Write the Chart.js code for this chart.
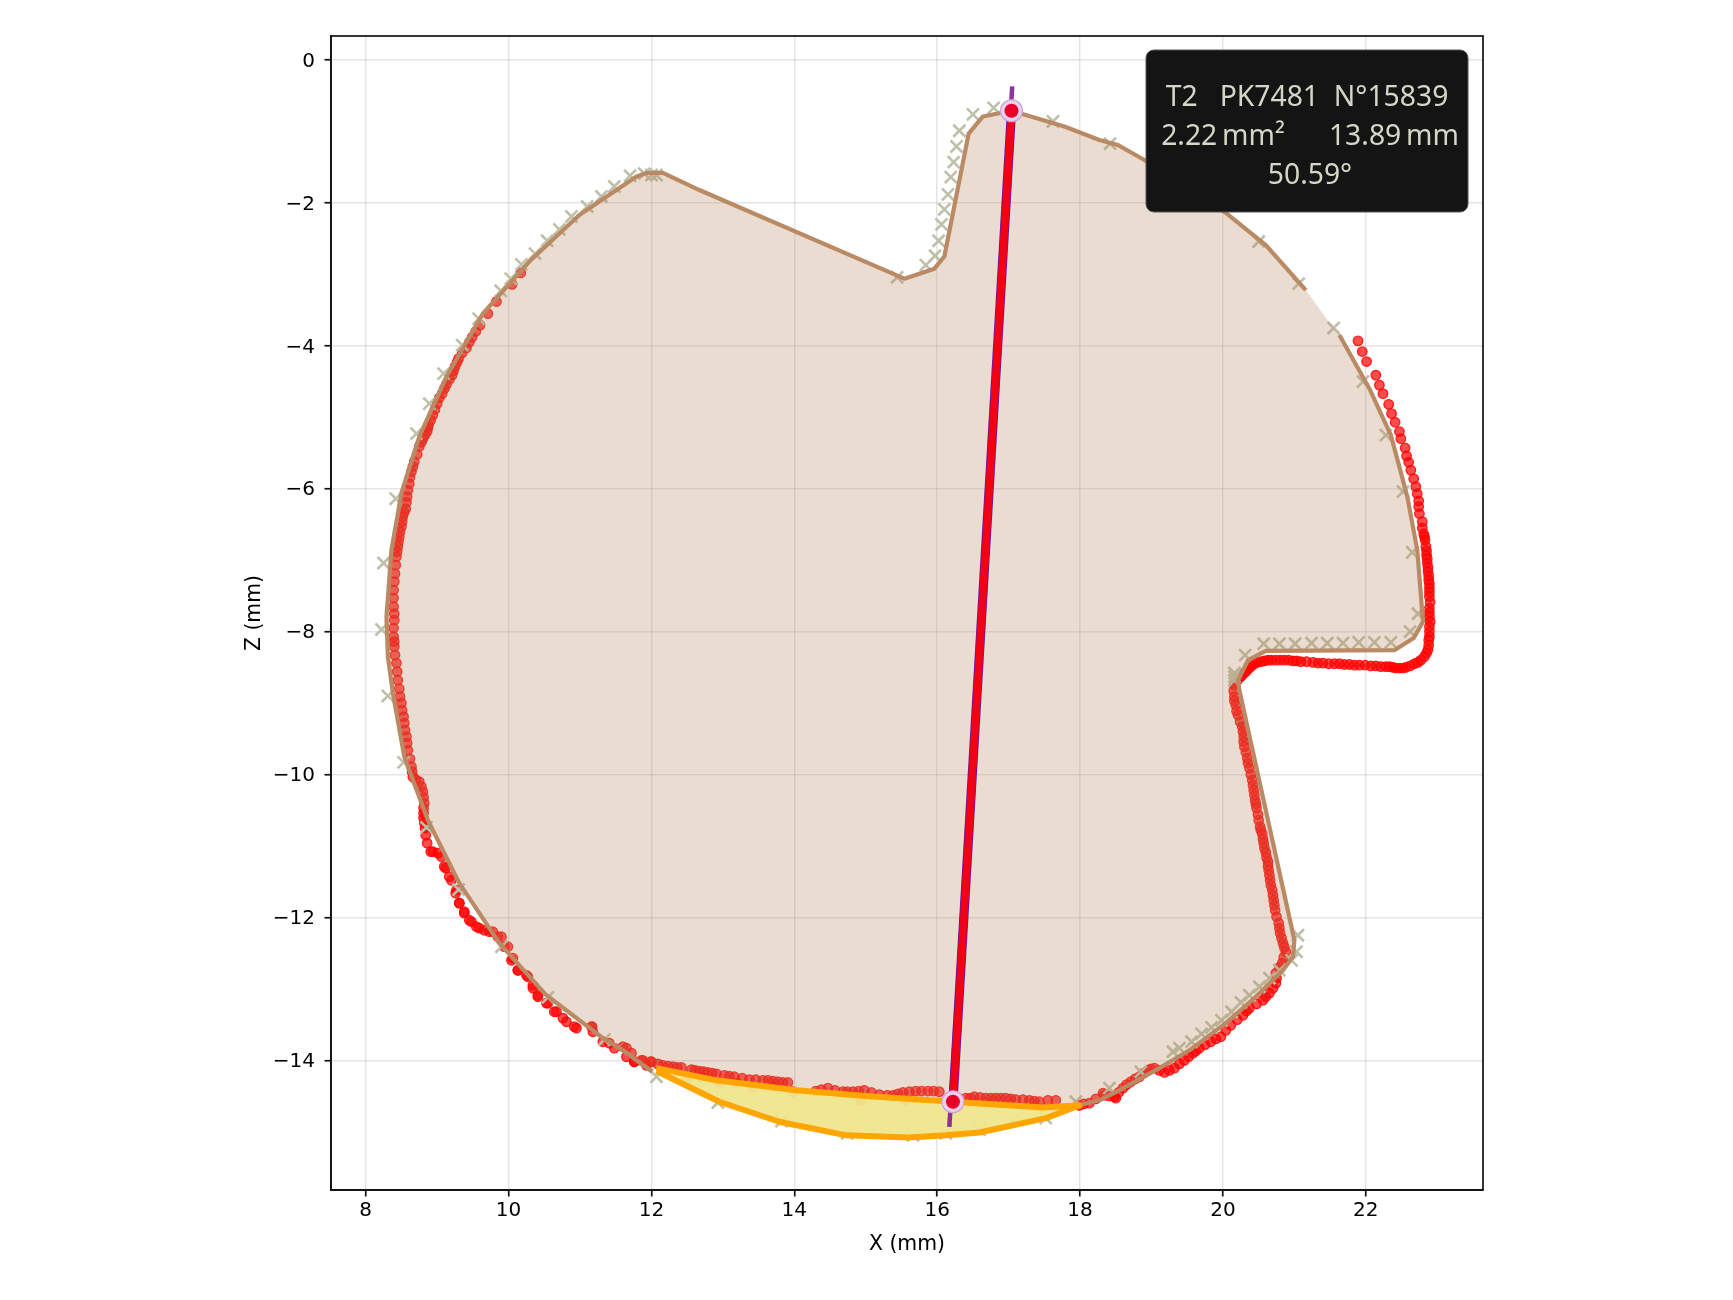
<!DOCTYPE html>
<html>
<head>
<meta charset="utf-8">
<title>T2 section</title>
<style>
  html, body { margin: 0; padding: 0; background: #fff; }
  canvas { display: block; }
</style>
<script src="https://cdn.jsdelivr.net/npm/chart.js@4/dist/chart.umd.min.js"></script>
</head>
<body>
<canvas id="chart" width="1733" height="1300"></canvas>
<script>
// fitted contour (closed, runs clockwise from the lower left end of the wear zone)
const contourX = [12.01,11.60,11.32,10.53,9.87,9.31,8.87,8.54,8.38,8.31,8.29,8.36,8.50,8.75,9.13,9.64,10.29,10.99,11.79,11.93,12.16,12.67,15.54,15.96,16.10,16.44,16.64,17.04,17.78,18.27,18.53,18.90,20.04,20.60,21.16,21.53,21.63,22.05,22.35,22.58,22.72,22.80,22.67,22.40,20.60,20.35,20.21,20.23,21.00,20.98,20.84,20.46,20.04,19.53,19.11,18.55,18.27,17.99,17.48,16.22,15.00,14.03,12.91,12.07];
const contourZ = [-14.16,-13.86,-13.69,-13.09,-12.36,-11.52,-10.64,-9.75,-8.86,-8.35,-7.79,-6.86,-6.06,-5.27,-4.43,-3.55,-2.82,-2.17,-1.63,-1.58,-1.58,-1.82,-3.06,-2.92,-2.75,-1.03,-0.79,-0.71,-0.93,-1.12,-1.19,-1.40,-2.14,-2.59,-3.22,-3.73,-3.85,-4.60,-5.25,-6.11,-6.86,-7.86,-8.09,-8.26,-8.27,-8.40,-8.68,-8.82,-12.32,-12.55,-12.74,-13.11,-13.48,-13.86,-14.11,-14.42,-14.56,-14.63,-14.66,-14.58,-14.50,-14.42,-14.28,-14.11];
const contourGapStart = 34;
const contourGapEnd = 36;

// wear zone
const wearX = [12.07,12.91,14.03,15.00,16.22,17.48,17.99,17.52,16.59,16.12,15.61,14.73,13.79,12.95,12.07];
const wearZ = [-14.11,-14.28,-14.42,-14.50,-14.58,-14.66,-14.63,-14.81,-15.01,-15.05,-15.08,-15.05,-14.86,-14.58,-14.15];

// reference profile crosses
const refX = [8.42,8.71,8.89,9.09,9.35,9.58,9.89,10.03,10.18,10.37,10.54,10.71,10.88,11.10,11.30,11.48,11.70,11.90,12.00,12.07,15.44,15.84,15.97,16.02,16.06,16.10,16.15,16.19,16.23,16.27,16.31,16.50,16.79,17.62,18.42,20.50,21.06,21.55,21.96,22.28,22.52,22.65,22.73,22.62,22.35,22.12,21.90,21.68,21.46,21.24,21.01,20.79,20.57,20.31,20.16,20.16,20.16,21.05,21.03,20.96,20.79,20.65,20.51,20.37,20.25,20.12,19.98,19.84,19.70,19.56,19.39,19.30,18.85,18.41,17.94,17.52,17.06,16.59,16.12,15.66,14.74,13.82,12.93,12.07,11.34,10.55,9.90,9.30,8.85,8.53,8.31,8.22,8.25];
const refZ = [-6.14,-5.23,-4.81,-4.39,-3.99,-3.62,-3.23,-3.06,-2.86,-2.71,-2.53,-2.37,-2.19,-2.05,-1.91,-1.77,-1.62,-1.59,-1.61,-1.61,-3.04,-2.87,-2.74,-2.53,-2.30,-2.09,-1.88,-1.64,-1.43,-1.21,-0.99,-0.76,-0.67,-0.86,-1.17,-2.54,-3.13,-3.75,-4.50,-5.25,-6.04,-6.89,-7.75,-8.00,-8.15,-8.15,-8.15,-8.16,-8.16,-8.16,-8.17,-8.17,-8.17,-8.33,-8.58,-8.63,-8.68,-12.25,-12.48,-12.60,-12.74,-12.85,-12.97,-13.09,-13.19,-13.32,-13.44,-13.54,-13.63,-13.74,-13.83,-13.88,-14.16,-14.39,-14.58,-14.81,-14.84,-14.97,-15.02,-15.05,-15.02,-14.85,-14.59,-14.23,-13.71,-13.12,-12.41,-11.61,-10.74,-9.83,-8.90,-7.97,-7.04];

// measured points, right flank then clockwise round to the top left
const measuredX = [21.89,21.95,22.01,22.14,22.19,22.24,22.32,22.36,22.41,22.47,22.49,22.55,22.57,22.60,22.63,22.67,22.70,22.72,22.74,22.74,22.75,22.79,22.81,22.83,22.84,22.85,22.86,22.87,22.88,22.89,22.89,22.89,22.89,22.89,22.89,22.88,22.85,22.77,22.68,22.56,22.47,22.38,22.28,22.14,21.99,21.84,21.70,21.56,21.40,21.26,21.09,20.98,20.86,20.74,20.63,20.53,20.44,20.37,20.30,20.23,20.16,20.16,20.18,20.21,20.27,20.29,20.30,20.34,20.37,20.41,20.43,20.45,20.47,20.50,20.52,20.55,20.57,20.60,20.63,20.64,20.66,20.69,20.71,20.73,20.78,20.80,20.84,20.88,20.83,20.74,20.74,20.65,20.56,20.37,20.28,20.11,19.97,19.83,19.67,19.58,19.46,19.32,19.18,19.04,18.95,18.83,18.71,18.60,18.50,18.48,18.34,18.32,18.13,17.99,17.66,17.43,17.29,17.10,16.96,16.82,16.68,16.52,16.40,16.03,15.87,15.70,15.52,15.38,15.56,15.19,14.98,14.93,14.82,14.68,14.47,14.30,13.98,13.91,13.84,13.70,13.56,13.42,13.37,13.16,13.02,12.95,12.91,12.79,12.67,12.56,12.49,12.42,12.30,12.16,12.00,11.93,11.86,11.76,11.72,11.65,11.60,11.41,11.16,10.95,10.81,10.67,10.53,10.41,10.34,10.25,10.13,10.06,9.99,9.90,9.78,9.66,9.55,9.45,9.38,9.31,9.26,9.20,9.12,9.01,8.91,8.86,8.84,8.82,8.81,8.82,8.80,8.75,8.66,8.64,8.59,8.57,8.54,8.51,8.48,8.45,8.43,8.40,8.39,8.40,8.39,8.39,8.41,8.43,8.45,8.47,8.50,8.52,8.56,8.58,8.61,8.64,8.68,8.75,8.80,8.86,8.88,8.94,9.00,9.07,9.13,9.21,9.25,9.30,9.41,9.49,9.60,9.71,9.83,10.05,10.17];
const measuredZ = [-3.93,-4.08,-4.22,-4.41,-4.55,-4.67,-4.82,-4.95,-5.07,-5.20,-5.30,-5.43,-5.54,-5.63,-5.74,-5.86,-5.97,-6.07,-6.17,-6.25,-6.35,-6.46,-6.63,-6.72,-6.81,-6.93,-7.04,-7.16,-7.28,-7.39,-7.51,-7.67,-7.79,-7.93,-8.07,-8.19,-8.30,-8.40,-8.45,-8.50,-8.51,-8.50,-8.49,-8.48,-8.47,-8.47,-8.46,-8.45,-8.44,-8.43,-8.42,-8.41,-8.40,-8.40,-8.40,-8.42,-8.45,-8.51,-8.58,-8.65,-8.75,-8.91,-9.03,-9.17,-9.33,-9.47,-9.61,-9.77,-9.91,-10.08,-10.22,-10.36,-10.47,-10.64,-10.73,-10.83,-10.96,-11.09,-11.22,-11.34,-11.48,-11.62,-11.76,-11.90,-12.08,-12.22,-12.36,-12.48,-12.64,-12.78,-12.92,-13.06,-13.16,-13.27,-13.37,-13.51,-13.67,-13.74,-13.83,-13.90,-14.00,-14.11,-14.17,-14.11,-14.14,-14.23,-14.30,-14.39,-14.53,-14.51,-14.49,-14.46,-14.60,-14.63,-14.56,-14.58,-14.56,-14.55,-14.53,-14.53,-14.53,-14.51,-14.53,-14.44,-14.43,-14.43,-14.45,-14.49,-14.56,-14.48,-14.42,-14.56,-14.44,-14.44,-14.39,-14.43,-14.44,-14.31,-14.31,-14.29,-14.28,-14.38,-14.27,-14.23,-14.21,-14.32,-14.19,-14.17,-14.15,-14.13,-14.27,-14.10,-14.09,-14.07,-14.02,-14.07,-14.00,-14.02,-13.90,-13.83,-13.81,-13.76,-13.53,-13.55,-13.46,-13.32,-13.20,-13.09,-12.95,-12.81,-12.74,-12.57,-12.41,-12.27,-12.20,-12.18,-12.13,-12.04,-11.92,-11.80,-11.66,-11.48,-11.31,-11.10,-11.08,-10.96,-10.85,-10.68,-10.54,-10.40,-10.24,-10.10,-10.03,-9.89,-9.66,-9.47,-9.28,-9.10,-8.91,-8.68,-8.44,-8.21,-8.07,-7.84,-7.65,-7.42,-7.19,-6.95,-6.81,-6.67,-6.53,-6.39,-6.28,-6.11,-5.93,-5.76,-5.62,-5.41,-5.30,-5.20,-5.11,-4.97,-4.81,-4.67,-4.54,-4.41,-4.29,-4.18,-4.03,-3.88,-3.71,-3.55,-3.38,-3.14,-2.98];

// second reading of the same run where the marks overlap into a solid band
const denseX = [22.79,22.82,22.85,22.86,22.87,22.88,22.89,22.89,22.90,22.89,22.90,22.89,22.88,22.87,22.82,22.73,22.62,22.52,22.42,22.33,22.21,22.07,21.91,21.77,21.63,21.48,21.33,21.17,21.03,20.92,20.80,20.68,20.58,20.48,20.40,20.33,20.26,20.19,20.15,20.16,20.19,20.24,20.28,20.29,20.32,20.35,20.39,20.42,20.44,20.46,20.49,20.53,20.56,20.58,20.61,20.63,20.65,20.67,20.70,20.72,20.75,20.79,20.82,20.86,20.85,20.79,20.75,20.70,20.60,20.47,20.33,20.20,20.04,19.90,19.75,19.62,19.52,19.39,19.25,19.11,18.99,18.89,18.77,18.65,18.54,18.41,18.22,18.05,17.55,17.36,17.20,17.03,16.89,16.75,16.60,16.46,15.95,15.78,15.61,15.45,15.30,15.08,14.90,14.74,14.57,14.38,13.77,13.63,13.46,13.27,13.09,12.85,12.73,12.61,12.36,12.23,12.09,13.70,13.20,12.70,8.94,9.06,9.10,9.17,9.27,9.31,9.38,9.48,9.59,9.73,9.85,9.94,10.04,10.13,10.27,10.34,10.41,10.55,10.64,10.76,10.92,11.17,11.18,11.32,11.48,11.65,11.76,11.88,11.99,8.83,8.81,8.81,8.81,8.78,8.70,8.65,8.62,8.58,8.55,8.53,8.50,8.47,8.44,8.41,8.40,8.39,8.40,8.39,8.40,8.42,8.44,8.46,8.48,8.51,8.54,8.57,8.59,8.62,8.66,8.72,8.78,8.83,8.87,8.91,8.97,9.03,9.10,9.17,9.23,9.28,9.35,9.45,9.54];
const denseZ = [-6.55,-6.67,-6.87,-6.98,-7.10,-7.22,-7.33,-7.45,-7.59,-7.73,-7.86,-8.00,-8.12,-8.25,-8.35,-8.43,-8.48,-8.51,-8.51,-8.49,-8.49,-8.48,-8.47,-8.46,-8.45,-8.45,-8.44,-8.42,-8.41,-8.40,-8.40,-8.40,-8.41,-8.43,-8.48,-8.55,-8.62,-8.70,-8.83,-8.97,-9.11,-9.26,-9.40,-9.54,-9.69,-9.84,-10.00,-10.15,-10.29,-10.41,-10.56,-10.78,-10.90,-11.03,-11.16,-11.28,-11.41,-11.55,-11.69,-11.83,-11.99,-12.15,-12.29,-12.42,-12.56,-12.70,-12.85,-12.99,-13.11,-13.21,-13.31,-13.43,-13.58,-13.70,-13.78,-13.87,-13.95,-14.05,-14.14,-14.14,-14.12,-14.18,-14.26,-14.34,-14.45,-14.50,-14.54,-14.61,-14.56,-14.57,-14.55,-14.54,-14.53,-14.53,-14.52,-14.53,-14.43,-14.43,-14.44,-14.47,-14.49,-14.45,-14.43,-14.44,-14.42,-14.41,-14.30,-14.28,-14.27,-14.25,-14.22,-14.18,-14.16,-14.14,-14.10,-14.08,-14.05,-14.37,-14.32,-14.23,-11.08,-11.15,-11.29,-11.43,-11.62,-11.80,-11.94,-12.06,-12.15,-12.20,-12.27,-12.41,-12.60,-12.74,-12.83,-12.99,-13.11,-13.20,-13.32,-13.41,-13.53,-13.53,-13.60,-13.74,-13.83,-13.95,-14.02,-14.00,-14.02,-10.75,-10.61,-10.47,-10.32,-10.17,-10.07,-9.96,-9.78,-9.56,-9.38,-9.19,-9.00,-8.80,-8.56,-8.33,-8.14,-7.95,-7.75,-7.53,-7.30,-7.07,-6.88,-6.74,-6.60,-6.46,-6.33,-6.19,-6.02,-5.84,-5.69,-5.52,-5.35,-5.25,-5.15,-5.04,-4.89,-4.73,-4.60,-4.47,-4.35,-4.23,-4.10,-3.95,-3.80];

// caliper line
const axisX = [17.05,16.17];
const axisZ = [-0.37,-14.93];
const chordX = [17.04,16.22];
const chordZ = [-0.71,-14.58];

const infoLines = ['T2   PK7481  N°15839', '2.22\u2009mm²      13.89\u2009mm', '50.59°'];

const FRAME = { left: 331, right: 1483, top: 36, bottom: 1190 };
const TITLE_LEFT = 242;
const TITLE_BOTTOM = 43.5;
const TICK_FONT = { family: '"DejaVu Sans"', size: 20 };
const TITLE_FONT = { family: '"DejaVu Sans"', size: 20.4 };

const pts = (xs, zs) => xs.map((x, i) => ({ x, y: zs[i] }));
const minus = (v) => String(v).replace('-', '\u2212');

const framePlugin = {
  id: 'framePlugin',
  afterDatasetsDraw(chart) {
    const { ctx, chartArea: a } = chart;
    ctx.save();
    ctx.strokeStyle = '#111';
    ctx.lineWidth = 1.7;
    ctx.strokeRect(a.left, a.top, a.right - a.left, a.bottom - a.top);
    ctx.restore();
  },
};

// y tick labels sit a touch lower than the library puts them
const yLabelsPlugin = {
  id: 'yLabelsPlugin',
  afterDraw(chart) {
    const { ctx } = chart;
    const y = chart.scales.y;
    ctx.save();
    ctx.fillStyle = '#000';
    ctx.font = `${TICK_FONT.size}px ${TICK_FONT.family}`;
    ctx.textAlign = 'right';
    ctx.textBaseline = 'middle';
    y.ticks.forEach((t) => {
      ctx.fillText(t.label, FRAME.left - 16, y.getPixelForValue(t.value) + 1.5);
    });
    ctx.restore();
  },
};

const infoBoxPlugin = {
  id: 'infoBoxPlugin',
  afterDraw(chart) {
    const { ctx } = chart;
    ctx.save();
    ctx.beginPath();
    ctx.roundRect(1146, 50, 322, 162, 8);
    ctx.fillStyle = '#141414';
    ctx.fill();
    ctx.strokeStyle = '#55554f';
    ctx.lineWidth = 1;
    ctx.stroke();
    ctx.fillStyle = '#d6d6c8';
    ctx.font = '28.3px "Noto Sans"';
    ctx.textAlign = 'center';
    ctx.textBaseline = 'middle';
    ctx.fillText(infoLines[0], 1307, 98);
    ctx.fillText(infoLines[1], 1310, 137);
    ctx.fillText(infoLines[2], 1310, 176);
    ctx.restore();
  },
};

new Chart(document.getElementById('chart'), {
  type: 'scatter',
  data: {
    datasets: [
      { label: 'end outer', data: pts(chordX, chordZ), order: 1, pointRadius: 11, pointBackgroundColor: '#ecd0e8', pointBorderColor: '#c8a2d8', pointBorderWidth: 1.2, showLine: false },
      { label: 'end inner', data: pts(chordX, chordZ), order: 0, pointRadius: 7, pointBackgroundColor: '#e8002a', pointBorderWidth: 0, showLine: false },
      { label: 'chord', data: pts(chordX, chordZ), order: 2, showLine: true, pointRadius: 0, borderColor: '#f20014', borderWidth: 7.5 },
      { label: 'chord edge', data: pts(chordX, chordZ), order: 3, showLine: true, pointRadius: 0, borderColor: 'rgb(110,20,160)', borderWidth: 9.2 },
      { label: 'axis', data: pts(axisX, axisZ), order: 3.5, showLine: true, pointRadius: 0, borderColor: 'rgba(128,30,150,0.9)', borderWidth: 4.5 },
      { label: 'wear', data: pts(wearX, wearZ), order: 4, showLine: true, fill: 'shape', pointRadius: 0, borderColor: '#ffa500', backgroundColor: 'rgba(240,230,140,0.95)', borderWidth: 6, borderJoinStyle: 'round' },
      {
        label: 'contour',
        data: pts(contourX, contourZ),
        order: 5,
        showLine: true,
        pointRadius: 0,
        borderColor: '#b98a64',
        borderWidth: 4.2,
        borderJoinStyle: 'round',
        segment: {
          borderColor: (c) => (c.p0DataIndex >= contourGapStart && c.p0DataIndex < contourGapEnd ? 'rgba(0,0,0,0)' : undefined),
        },
      },
      { label: 'contour fill', data: pts(contourX, contourZ), order: 6, showLine: true, fill: 'shape', pointRadius: 0, borderWidth: 0, borderColor: 'rgba(0,0,0,0)', backgroundColor: 'rgba(185,138,100,0.3)' },
      { label: 'reference', data: pts(refX, refZ), order: 7, showLine: false, pointStyle: 'crossRot', pointRadius: 8.5, pointBorderColor: 'rgba(190,192,170,1)', pointBorderWidth: 2.6 },
      { label: 'measured', data: pts(measuredX.concat(denseX), measuredZ.concat(denseZ)), order: 8, showLine: false, pointRadius: 4.8, pointBackgroundColor: 'rgba(255,0,0,0.7)', pointBorderColor: 'rgba(255,0,0,0.85)', pointBorderWidth: 1.2 },
    ],
  },
  options: {
    responsive: false,
    animation: false,
    devicePixelRatio: 1,
    layout: { padding: { left: TITLE_LEFT, right: 1733 - FRAME.right, top: FRAME.top, bottom: TITLE_BOTTOM } },
    plugins: { legend: { display: false }, tooltip: { enabled: false } },
    scales: {
      x: {
        type: 'linear',
        min: 7.514,
        max: 23.64,
        afterFit(scale) { scale.height = 1300 - TITLE_BOTTOM - FRAME.bottom; scale.paddingLeft = 0; scale.paddingRight = 0; },
        afterBuildTicks(scale) { scale.ticks = scale.ticks.filter((t) => t.value >= 8 && t.value <= 22); },
        ticks: { stepSize: 2, includeBounds: false, maxRotation: 0, autoSkip: false, color: '#000', padding: 2, font: TICK_FONT, callback: minus },
        grid: { color: 'rgba(0,0,0,0.1)', lineWidth: 1.5, tickColor: '#111', tickLength: 6.5, tickWidth: 1.7 },
        border: { color: '#111', width: 1.7 },
        title: { display: true, text: 'X (mm)', color: '#000', font: TITLE_FONT, padding: { top: 0, bottom: 0 } },
      },
      y: {
        type: 'linear',
        min: -15.815,
        max: 0.336,
        afterFit(scale) { scale.width = FRAME.left - TITLE_LEFT; scale.paddingTop = 0; scale.paddingBottom = 0; },
        afterBuildTicks(scale) { scale.ticks = scale.ticks.filter((t) => t.value >= -14 && t.value <= 0); },
        ticks: { stepSize: 2, includeBounds: false, autoSkip: false, display: false, callback: minus },
        grid: { color: 'rgba(0,0,0,0.1)', lineWidth: 1.5, tickColor: '#111', tickLength: 6.5, tickWidth: 1.7 },
        border: { color: '#111', width: 1.7 },
        title: { display: true, text: 'Z (mm)', color: '#000', font: TITLE_FONT, padding: { top: 0, bottom: 0 } },
      },
    },
  },
  plugins: [framePlugin, yLabelsPlugin, infoBoxPlugin],
});
</script>
</body>
</html>
